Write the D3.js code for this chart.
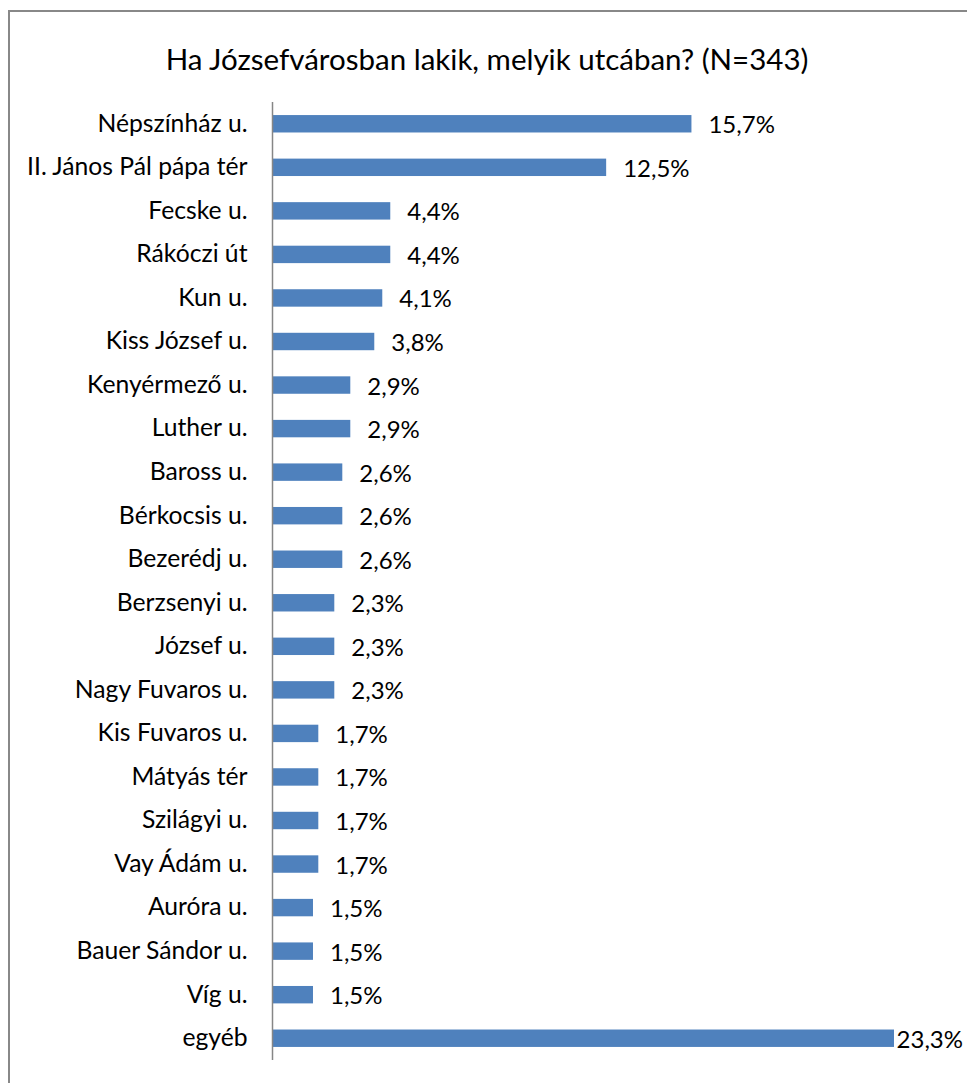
<!DOCTYPE html>
<html>
<head>
<meta charset="utf-8">
<script src="https://cdn.jsdelivr.net/npm/d3@7"></script>
<style>
  body { margin: 0; background: #fff; }
  text { font-family: Lato, "Open Sans", sans-serif; fill: #000; }
</style>
</head>
<body>
<div id="chart"></div>
<script>
// categories and values (percent)
const streets = [
  'Népszínház u.', 'II. János Pál pápa tér', 'Fecske u.', 'Rákóczi út', 'Kun u.',
  'Kiss József u.', 'Kenyérmező u.', 'Luther u.', 'Baross u.', 'Bérkocsis u.',
  'Bezerédj u.', 'Berzsenyi u.', 'József u.', 'Nagy Fuvaros u.', 'Kis Fuvaros u.',
  'Mátyás tér', 'Szilágyi u.', 'Vay Ádám u.', 'Auróra u.', 'Bauer Sándor u.',
  'Víg u.', 'egyéb'
];
const shares = [
  15.7, 12.5, 4.4, 4.4, 4.1,
  3.8, 2.9, 2.9, 2.6, 2.6,
  2.6, 2.3, 2.3, 2.3, 1.7,
  1.7, 1.7, 1.7, 1.5, 1.5,
  1.5, 23.3
];
const title = 'Ha Józsefvárosban lakik, melyik utcában? (N=343)';

const W = 967, H = 1083;
const plotLeft = 273, plotRight = 894;
const plotTop = 102, plotBottom = 1060;
const fontSize = 24;

const svg = d3.select('#chart').append('svg')
  .attr('width', W)
  .attr('height', H);

// outer frame (runs off right & bottom edges)
svg.append('rect')
  .attr('x', 9)
  .attr('y', 11)
  .attr('width', W + 20)
  .attr('height', H + 20)
  .attr('fill', 'none')
  .attr('stroke', '#888')
  .attr('stroke-width', 2);

// title
svg.append('text')
  .attr('x', 487)
  .attr('y', 58)
  .attr('text-anchor', 'middle')
  .attr('dominant-baseline', 'central')
  .attr('font-size', '29.5px')
  .text(title);

const x = d3.scaleLinear()
  .domain([0, 23.3])
  .range([plotLeft, plotRight]);

const y = d3.scaleBand()
  .domain(streets)
  .range([plotTop, plotBottom])
  .paddingInner(0.6)
  .paddingOuter(0.3);

const rows = streets.map((s, i) => ({ name: s, value: shares[i] }));

// bars
svg.append('g').selectAll('rect')
  .data(rows)
  .join('rect')
  .attr('x', x(0))
  .attr('y', d => y(d.name))
  .attr('width', d => x(d.value) - x(0))
  .attr('height', y.bandwidth())
  .attr('fill', '#4f81bd');

// category axis
const axis = svg.append('g')
  .attr('transform', `translate(${plotLeft - 0.5},0)`)
  .call(d3.axisLeft(y).tickSize(0).tickPadding(25));
axis.select('.domain')
  .attr('d', `M0,${plotTop}V${plotBottom}`)
  .attr('stroke', '#868686')
  .attr('stroke-width', 1.5);
axis.selectAll('text')
  .attr('font-size', '24.7px')
  .attr('font-family', 'Lato, sans-serif')
  .attr('fill', '#000');

// value labels
svg.append('g').selectAll('text')
  .data(rows)
  .join('text')
  .attr('y', d => y(d.name) + y.bandwidth() / 2)
  .attr('dominant-baseline', 'central')
  .attr('font-size', fontSize + 'px')
  .text(d => d.value.toFixed(1).replace('.', ',') + '%')
  .attr('x', function (d) {
    const w = this.getComputedTextLength();
    return Math.min(x(d.value) + 17, W - w - 4);
  });
</script>
</body>
</html>
